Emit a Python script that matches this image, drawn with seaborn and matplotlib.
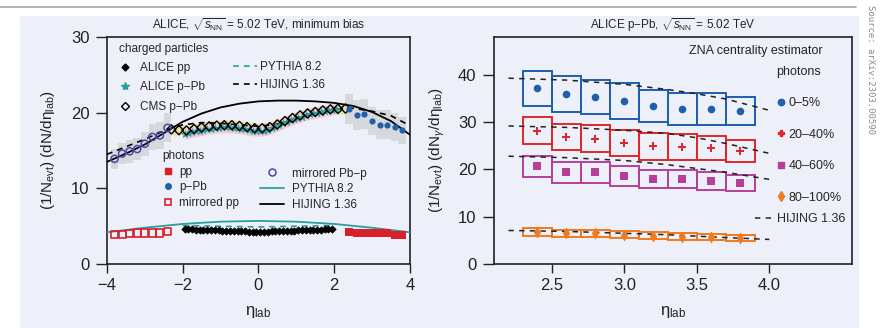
import numpy as np
import matplotlib
matplotlib.use("Agg")
import matplotlib.pyplot as plt
import seaborn as sns
from matplotlib.lines import Line2D
from matplotlib.patches import Rectangle

# ---------------- left panel: minimum bias ----------------
# charged particles
alice_pp_x = [-1.95, -1.85, -1.75, -1.65, -1.55, -1.45, -1.35, -1.25, -1.15, -1.05,
              -0.95, -0.85, -0.75, -0.65, -0.55, -0.45, -0.35, -0.25, -0.15, -0.05,
              0.05, 0.15, 0.25, 0.35, 0.45, 0.55, 0.65, 0.75, 0.85, 0.95,
              1.05, 1.15, 1.25, 1.35, 1.45, 1.55, 1.65, 1.75, 1.85, 1.95]
alice_pp_y = [4.60, 4.58, 4.57, 4.55, 4.54, 4.52, 4.50, 4.48, 4.46, 4.44,
              4.42, 4.40, 4.38, 4.36, 4.34, 4.32, 4.31, 4.30, 4.29, 4.28,
              4.28, 4.29, 4.30, 4.31, 4.32, 4.34, 4.36, 4.38, 4.40, 4.42,
              4.44, 4.46, 4.48, 4.50, 4.52, 4.54, 4.55, 4.57, 4.58, 4.60]

alice_ppb_x = [-1.95, -1.85, -1.75, -1.65, -1.55, -1.45, -1.35, -1.25, -1.15, -1.05,
               -0.95, -0.85, -0.75, -0.65, -0.55, -0.45, -0.35, -0.25, -0.15, -0.05,
               0.05, 0.15, 0.25, 0.35, 0.45, 0.55, 0.65, 0.75, 0.85, 0.95,
               1.05, 1.15, 1.25, 1.35, 1.45, 1.55, 1.65, 1.75, 1.85, 1.95, 2.05]
alice_ppb_y = [17.2, 17.35, 17.45, 17.55, 17.65, 17.75, 17.85, 17.9, 17.95, 18.0,
               18.05, 18.05, 18.05, 18.0, 17.95, 17.9, 17.8, 17.7, 17.65, 17.6,
               17.6, 17.65, 17.75, 17.95, 18.15, 18.35, 18.6, 18.8, 19.0, 19.2,
               19.35, 19.5, 19.65, 19.8, 19.9, 20.0, 20.1, 20.2, 20.3, 20.4, 20.5]

cms_x = [-2.3, -2.1, -1.9, -1.7, -1.5, -1.3, -1.1, -0.9, -0.7, -0.5, -0.3, -0.1,
         0.1, 0.3, 0.5, 0.7, 0.9, 1.1, 1.3, 1.5, 1.7, 1.9, 2.1, 2.3]
cms_y = [17.8, 17.7, 17.65, 17.85, 18.05, 18.2, 18.3, 18.35, 18.35, 18.25, 18.1, 17.95,
         17.95, 18.1, 18.45, 18.9, 19.3, 19.65, 19.9, 20.1, 20.3, 20.45, 20.5, 20.55]

pythia_ch_x = [-2.0, -1.0, 0.0, 1.0, 2.0]
pythia_ch_y = [5.1, 5.0, 4.9, 5.0, 5.1]

hijing_ch_x = [-4, -3.5, -3, -2.5, -2, -1.5, -1, -0.5, 0, 0.5, 1, 1.5, 2, 2.5, 3, 3.5, 4]
hijing_ch_y = [14.5, 15.5, 16.5, 17.6, 18.4, 18.7, 18.6, 18.4, 18.2, 18.5, 19.2, 19.9,
               20.5, 20.6, 20.2, 19.6, 18.3]

# photons
pp_g_x = [2.4, 2.6, 2.8, 3.0, 3.2, 3.4, 3.6, 3.8]
pp_g_y = [4.25, 4.1, 4.1, 4.1, 4.1, 4.05, 3.9, 3.9]
mir_pp_x = [-3.8, -3.6, -3.4, -3.2, -3.0, -2.8, -2.6, -2.4]
mir_pp_y = [3.9, 3.9, 4.05, 4.1, 4.1, 4.1, 4.1, 4.25]

ppb_g_x = [2.4, 2.6, 2.8, 3.0, 3.2, 3.4, 3.6, 3.8]
ppb_g_y = [20.5, 19.7, 19.8, 18.9, 18.4, 18.4, 18.1, 17.7]
ppb_g_sys = [2.0, 2.0, 2.0, 1.9, 1.9, 1.9, 1.8, 1.8]
mir_pbp_x = [-3.8, -3.6, -3.4, -3.2, -3.0, -2.8, -2.6, -2.4]
mir_pbp_y = [13.9, 14.6, 14.9, 15.2, 15.9, 16.8, 17.0, 18.0]
mir_pbp_sys = [1.3, 1.4, 1.5, 1.5, 1.6, 1.7, 1.8, 1.9]

pythia_g_x = [-4, -3, -2, -1, 0, 1, 2, 3, 4]
pythia_g_y = [4.2, 4.8, 5.3, 5.6, 5.7, 5.6, 5.3, 4.8, 4.2]

hijing_g_x = [-4, -3.5, -3, -2.5, -2, -1.5, -1, -0.5, 0, 0.5, 1, 1.5, 2, 2.5, 3, 3.5, 4]
hijing_g_y = [13.5, 14.6, 15.8, 17.3, 18.8, 19.9, 20.7, 21.2, 21.5, 21.6, 21.6, 21.5,
              21.3, 20.9, 20.1, 18.9, 17.1]

# ---------------- right panel: centrality classes ----------------
cent_x = [2.4, 2.6, 2.8, 3.0, 3.2, 3.4, 3.6, 3.8]
cent_labels = ["0\u20135%", "20\u201340%", "40\u201360%", "80\u2013100%"]
cent_y = [
    [37.2, 36.0, 35.4, 34.4, 33.4, 32.8, 32.8, 32.4],
    [28.2, 26.9, 26.5, 25.6, 24.9, 24.7, 24.5, 23.9],
    [20.7, 19.4, 19.4, 18.6, 17.9, 17.9, 17.5, 17.1],
    [6.8, 6.5, 6.5, 6.2, 6.0, 5.8, 5.7, 5.5],
]
cent_sys = [
    [3.7, 3.8, 3.6, 3.8, 3.4, 3.4, 3.3, 3.0],
    [2.8, 2.8, 2.8, 2.8, 2.8, 2.8, 2.5, 2.3],
    [2.2, 2.2, 2.2, 2.1, 1.9, 1.9, 1.9, 1.7],
    [0.8, 0.8, 0.8, 0.75, 0.75, 0.7, 0.7, 0.65],
]
hij_cent_x = [2.2, 2.6, 3.0, 3.3, 3.5, 3.7, 4.0]
hij_cent_y = [
    [39.3, 38.9, 38.0, 36.9, 36.0, 34.9, 32.5],
    [29.2, 28.9, 28.3, 27.6, 26.7, 25.5, 23.4],
    [22.8, 22.5, 21.9, 21.0, 20.2, 19.4, 17.9],
    [7.1, 6.9, 6.5, 6.2, 5.9, 5.6, 5.2],
]
cent_colors = ["#1f5fae", "#e0262b", "#b5409a", "#f07a1e"]
cent_markers = ["o", "P", "s", "d"]
cent_sizes = [30, 32, 34, 38]

BG = "#edf0f9"
TEAL = "#2a9d9d"
RED = "#d8202a"
BLUE = "#1f5fae"
OPEN_BLUE = "#4548a8"

sns.set_theme(style="ticks")
plt.rcParams['font.family'] = ['Liberation Sans', 'DejaVu Sans']
plt.rcParams['mathtext.fontset'] = 'custom'
plt.rcParams['mathtext.rm'] = 'Liberation Sans'
plt.rcParams['mathtext.it'] = 'Liberation Sans:italic'
plt.rcParams['mathtext.sf'] = 'Liberation Sans'
plt.rcParams['axes.linewidth'] = 1.2
plt.rcParams['axes.edgecolor'] = '#222222'

fig = plt.figure(figsize=(8.91, 3.28), dpi=100)
fig.patches.append(Rectangle((20 / 891, 0), 838 / 891, 312 / 328, transform=fig.transFigure,
                             color=BG, zorder=-5))
fig.add_artist(Line2D([0, 856 / 891], [1 - 7 / 328, 1 - 7 / 328], color="#a0a6b0", lw=1.2))
fig.text(0.977, 0.985, "Source: arXiv:2303.00590", rotation=270, va="top", ha="center",
         fontsize=6.5, color="#8a8a8a", family="DejaVu Sans Mono")

ax1 = fig.add_axes([0.120, 0.195, 0.340, 0.692])
ax2 = fig.add_axes([0.5544, 0.195, 0.4018, 0.692])

# ---- left panel drawing ----
ax1.set_facecolor(BG)
ax1.bar(mir_pbp_x, 2 * np.array(mir_pbp_sys), bottom=np.array(mir_pbp_y) - np.array(mir_pbp_sys),
        width=0.2, color="#d7d8dc", linewidth=0, zorder=1)
ax1.bar(ppb_g_x, 2 * np.array(ppb_g_sys), bottom=np.array(ppb_g_y) - np.array(ppb_g_sys),
        width=0.2, color="#d7d8dc", linewidth=0, zorder=1)
ax1.fill_between(cms_x, np.array(cms_y) - 0.7, np.array(cms_y) + 0.7, color="#e6e2a4",
                 lw=0, zorder=2)
ax1.fill_between(alice_ppb_x, np.array(alice_ppb_y) - 0.7, np.array(alice_ppb_y) + 0.7,
                 color="#f5c8cf", lw=0, zorder=2.5)

sns.lineplot(x=hijing_g_x, y=hijing_g_y, ax=ax1, color="black", lw=1.3, zorder=3)
sns.lineplot(x=hijing_ch_x, y=hijing_ch_y, ax=ax1, color="black", lw=1.2, linestyle=(0, (3.5, 3)),
             zorder=3)
sns.lineplot(x=pythia_g_x, y=pythia_g_y, ax=ax1, color=TEAL, lw=1.3, zorder=3)
sns.lineplot(x=pythia_ch_x, y=pythia_ch_y, ax=ax1, color=TEAL, lw=1.2, linestyle=(0, (3.5, 3)),
             zorder=3)

sns.scatterplot(x=alice_ppb_x, y=alice_ppb_y, ax=ax1, marker="*", s=34, color=TEAL,
                edgecolor=TEAL, linewidth=0.3, zorder=4)
sns.scatterplot(x=cms_x, y=cms_y, ax=ax1, marker="D", s=22, facecolor="none",
                edgecolor="black", linewidth=1.0, zorder=5)
sns.scatterplot(x=alice_pp_x, y=alice_pp_y, ax=ax1, marker="D", s=14, color="black",
                edgecolor="black", linewidth=0.5, zorder=5)
sns.scatterplot(x=pp_g_x, y=pp_g_y, ax=ax1, marker="s", s=34, color=RED, edgecolor=RED,
                linewidth=0, zorder=5)
sns.scatterplot(x=mir_pp_x, y=mir_pp_y, ax=ax1, marker="s", s=26, facecolor="none",
                edgecolor=RED, linewidth=1.2, zorder=5)
sns.scatterplot(x=ppb_g_x, y=ppb_g_y, ax=ax1, marker="o", s=20, color=BLUE, edgecolor=BLUE,
                linewidth=0, zorder=5)
sns.scatterplot(x=mir_pbp_x, y=mir_pbp_y, ax=ax1, marker="o", s=26, facecolor="none",
                edgecolor=OPEN_BLUE, linewidth=1.1, zorder=5)

ax1.set_xlim(-4, 4)
ax1.set_ylim(0, 30)
ax1.set_xticks([-4, -2, 0, 2, 4])
ax1.set_yticks([0, 10, 20, 30])
ax1.set_xlabel("\u03b7$_{\\rm lab}$", fontsize=12, color="#222222", labelpad=8)
ax1.set_ylabel("(1/N$_{\\rm evt}$) (dN/d\u03b7$_{\\rm lab}$)", fontsize=11, color="#222222",
               labelpad=10)
ax1.set_title("ALICE, $\\sqrt{s_{\\rm NN}}$ = 5.02 TeV, minimum bias", fontsize=8.5,
              family=["Liberation Sans Narrow", "Liberation Sans"], pad=6)

fs = 8.5
h_pp = Line2D([], [], ls="none", marker="D", ms=3.5, color="black")
h_ppb = Line2D([], [], ls="none", marker="*", ms=6, color=TEAL)
h_cms = Line2D([], [], ls="none", marker="D", ms=4.5, mfc="none", mec="black", mew=1.0)
h_py_d = Line2D([], [], color=TEAL, lw=1.2, ls=(0, (3.5, 3)))
h_hi_d = Line2D([], [], color="black", lw=1.2, ls=(0, (3.5, 3)))
leg_a = ax1.legend([h_pp, h_ppb, h_cms], ["ALICE pp", "ALICE p\u2212Pb", "CMS p\u2212Pb"],
                   title="charged particles", title_fontsize=fs, fontsize=fs, loc="upper left",
                   bbox_to_anchor=(0.040, 0.975), frameon=False, alignment="left",
                   handlelength=1.0, handletextpad=0.75, labelspacing=0.62, borderpad=0,
                   borderaxespad=0)
ax1.add_artist(leg_a)
leg_b = ax1.legend([h_py_d, h_hi_d], ["PYTHIA 8.2", "HIJING 1.36"], fontsize=fs,
                   loc="upper left", bbox_to_anchor=(0.416, 0.895), frameon=False,
                   handlelength=2.0, handletextpad=0.25, labelspacing=0.55, borderpad=0,
                   borderaxespad=0)
ax1.add_artist(leg_b)

h_gpp = Line2D([], [], ls="none", marker="s", ms=5, color=RED)
h_gppb = Line2D([], [], ls="none", marker="o", ms=4, color=BLUE)
h_gmpp = Line2D([], [], ls="none", marker="s", ms=5, mfc="none", mec=RED, mew=1.2)
h_gmpbp = Line2D([], [], ls="none", marker="o", ms=5, mfc="none", mec=OPEN_BLUE, mew=1.1)
h_py = Line2D([], [], color=TEAL, lw=1.3)
h_hi = Line2D([], [], color="black", lw=1.3)
leg_c = ax1.legend([h_gpp, h_gppb, h_gmpp], ["pp", "p\u2212Pb", "mirrored pp"],
                   title="photons", title_fontsize=fs, fontsize=fs, loc="upper left",
                   bbox_to_anchor=(0.1815, 0.502), frameon=False, alignment="left",
                   handlelength=1.0, handletextpad=0.44, labelspacing=0.3, borderpad=0,
                   borderaxespad=0)
ax1.add_artist(leg_c)
ax1.legend([h_gmpbp, h_py, h_hi], ["mirrored Pb\u2212p", "PYTHIA 8.2", "HIJING 1.36"],
           fontsize=fs, loc="upper left", bbox_to_anchor=(0.505, 0.425), frameon=False,
           handlelength=2.0, handletextpad=0.7, labelspacing=0.3, borderpad=0,
           borderaxespad=0)

# ---- right panel drawing ----
ax2.set_facecolor(BG)
for vals, sys, col, mk, sz in zip(cent_y, cent_sys, cent_colors, cent_markers, cent_sizes):
    ax2.bar(cent_x, 2 * np.array(sys), bottom=np.array(vals) - np.array(sys), width=0.2,
            fill=False, edgecolor=col, linewidth=1.4, zorder=2)
    sns.scatterplot(x=cent_x, y=vals, ax=ax2, marker=mk, s=sz, color=col, edgecolor=col,
                    linewidth=0, zorder=4)
for hv in hij_cent_y:
    sns.lineplot(x=hij_cent_x, y=hv, ax=ax2, color="#222222", lw=1.1,
                 linestyle=(0, (3.5, 3.5)), zorder=3)

ax2.set_xlim(2.1, 4.57)
ax2.set_ylim(0, 48)
ax2.set_xticks([2.5, 3.0, 3.5, 4.0])
ax2.set_xticklabels(["2.5", "3.0", "3.5", "4.0"])
ax2.set_yticks([0, 10, 20, 30, 40])
ax2.set_xlabel("\u03b7$_{\\rm lab}$", fontsize=12, color="#222222", labelpad=8)
ax2.set_ylabel("(1/N$_{\\rm evt}$) (dN$_{\\gamma}$/d\u03b7$_{\\rm lab}$)", fontsize=11,
               color="#222222", labelpad=8)
ax2.set_title("ALICE p\u2212Pb, $\\sqrt{s_{\\rm NN}}$ = 5.02 TeV", fontsize=8.5,
              family=["Liberation Sans Narrow", "Liberation Sans"], pad=6)
ax2.text(0.919, 0.940, "ZNA centrality estimator", transform=ax2.transAxes, ha="right",
         va="center", fontsize=9, color="#222222")

fs2 = 9
cent_handles = [Line2D([], [], ls="none", marker=m, ms=4.6, color=c)
                for m, c in zip(cent_markers, cent_colors)]
leg_e = ax2.legend(cent_handles, cent_labels, title="photons", title_fontsize=fs2, fontsize=fs2,
                   loc="upper left", bbox_to_anchor=(0.788, 0.872), frameon=False,
                   alignment="left", handlelength=0.8, handletextpad=0.2, labelspacing=1.55,
                   borderpad=0, borderaxespad=0)
ax2.add_artist(leg_e)
ax2.legend([Line2D([], [], color="#222222", lw=1.1, ls=(0, (3.5, 3.5)))], ["HIJING 1.36"],
           fontsize=fs2, loc="upper left", bbox_to_anchor=(0.729, 0.225), frameon=False,
           handlelength=1.4, handletextpad=0.36, borderpad=0, borderaxespad=0)

for ax in (ax1, ax2):
    for sp in ax.spines.values():
        sp.set_visible(True)
        sp.set_color("#222222")
    ax.tick_params(axis="both", labelsize=12, colors="#222222", width=1.0)
    ax.tick_params(axis="y", length=8, pad=4.5)
    ax.tick_params(axis="x", length=6.5, pad=3.5)

fig.savefig("out.png", dpi=100)
